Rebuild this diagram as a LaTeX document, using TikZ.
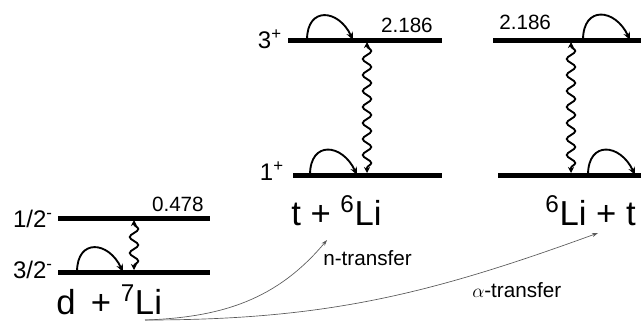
\documentclass[tikz,border=0pt]{standalone}
\usepackage{fontspec}
\setmainfont{Liberation Sans}
\usetikzlibrary{arrows.meta, decorations.pathmorphing}
\tikzset{
    scheme/.style={x=0.75pt, y=-0.75pt, >=Stealth},
    lvl/.style={line width=3.75pt},
    hop/.style={-{Stealth[length=6pt, width=5pt]}, line width=1.4pt, out=90, in=115, looseness=1.9},
    gamma/.style={{Stealth[length=4.5pt, width=4.5pt]}-{Stealth[length=4.5pt, width=4.5pt]}, line width=1.4pt,
        decorate, decoration={snake, amplitude=3.2pt, segment length=12pt, pre length=3pt, post length=3pt}},
    transfer/.style={-{Stealth[length=4.5pt, width=3pt]}, black!65, line width=0.5pt},
    spin/.style={font=\fontsize{18}{21}\selectfont, inner sep=0pt},
    energy/.style={font=\fontsize{15.5}{18}\selectfont, inner sep=0pt},
    reac/.style={font=\fontsize{26}{30}\selectfont, inner sep=0pt},
    route/.style={font=\fontsize{15.5}{18}\selectfont, inner sep=0pt},
}
\begin{document}
\begin{tikzpicture}[scheme]
    \useasboundingbox (0,0) rectangle (641,322);

    % d + 7Li
    \coordinate (dx1) at (58,218);  \coordinate (dx2) at (210,218);
    \coordinate (dg1) at (58,272);  \coordinate (dg2) at (210,272);
    \draw[lvl] (dx1) -- (dx2);
    \draw[lvl] (dg1) -- (dg2);
    \node[spin, anchor=base east]   (dxs)  at (53,227) {1/2\textsuperscript{-}};
    \node[spin, anchor=base east]   (dgs)  at (53,278) {3/2\textsuperscript{-}};
    \node[energy, anchor=base east] (dxe)  at (204,211) {0.478};
    \node[reac, anchor=base west]   (dli)  at (56,314) {d\, + \textsuperscript{7}Li};
    \coordinate (dh1) at (77,272);  \coordinate (dh2) at (123,272);
    \draw[hop] (dh1) to (dh2);
    \coordinate (dw1) at (134,220); \coordinate (dw2) at (134,270);
    \draw[gamma] (dw1) -- (dw2);

    % t + 6Li
    \coordinate (tx1) at (288,40);  \coordinate (tx2) at (442,40);
    \coordinate (tg1) at (293,175); \coordinate (tg2) at (442,175);
    \draw[lvl] (tx1) -- (tx2);
    \draw[lvl] (tg1) -- (tg2);
    \node[spin, anchor=base east]   (txs)  at (282,48) {3\textsuperscript{+}};
    \node[spin, anchor=base east]   (tgs)  at (284,180) {1\textsuperscript{+}};
    \node[energy, anchor=base east] (txe)  at (433,32) {2.186};
    \node[reac, anchor=base west]   (tli)  at (291,225) {t + \textsuperscript{6}Li};
    \coordinate (th1) at (307,40);  \coordinate (th2) at (353,40);
    \draw[hop] (th1) to (th2);
    \coordinate (th3) at (310,175); \coordinate (th4) at (357,175);
    \draw[hop] (th3) to (th4);
    \coordinate (tw1) at (367,42);  \coordinate (tw2) at (367,173);
    \draw[gamma] (tw1) -- (tw2);

    % 6Li + t
    \coordinate (lx1) at (493,40);  \coordinate (lx2) at (641,40);
    \coordinate (lg1) at (498,175); \coordinate (lg2) at (641,175);
    \draw[lvl] (lx1) -- (lx2);
    \draw[lvl] (lg1) -- (lg2);
    \node[energy, anchor=base west] (lxe)  at (499,29) {2.186};
    \node[reac, anchor=base east]   (lli)  at (636,225) {\textsuperscript{6}Li + t};
    \coordinate (lh1) at (583,40);  \coordinate (lh2) at (630,40);
    \draw[hop] (lh1) to (lh2);
    \coordinate (lh3) at (588,175); \coordinate (lh4) at (635,175);
    \draw[hop] (lh3) to (lh4);
    \coordinate (lw1) at (571,42);  \coordinate (lw2) at (571,173);
    \draw[gamma] (lw1) -- (lw2);

    % transfer routes
    \coordinate (src)  at (145,320);
    \coordinate (nend) at (327,240);
    \coordinate (aend) at (598,233);
    \draw[transfer] (src) to[out=2, in=230] (nend);
    \draw[transfer] (src) to[out=0, in=200] (aend);
    \node[route, anchor=base west] (ntr) at (323,265) {n-transfer};
    \node[route, anchor=base west] (atr) at (472,297) {$\alpha$-transfer};
\end{tikzpicture}
\end{document}
